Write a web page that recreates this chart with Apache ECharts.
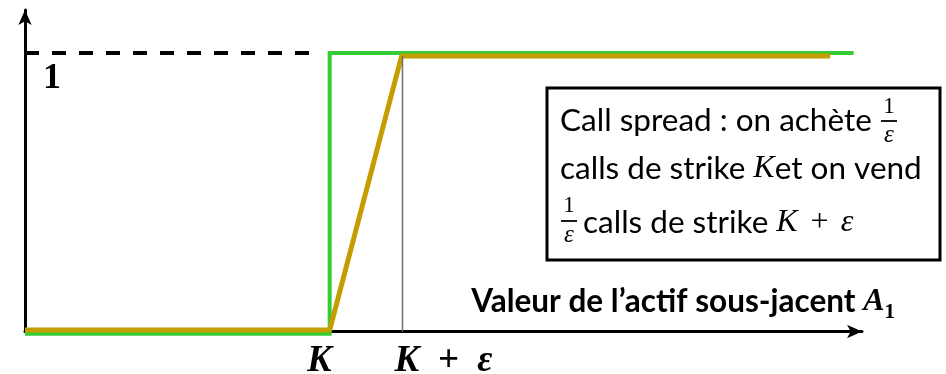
<!DOCTYPE html>
<html>
<head>
<meta charset="utf-8">
<script src="https://cdn.jsdelivr.net/npm/echarts@6/dist/echarts.min.js"></script>
<style>
    html, body { margin: 0; padding: 0; background: #fff; }
    #chart { width: 946px; height: 374px; }
</style>
</head>
<body>
<div id="chart"></div>
<script>
// strikes on the underlying axis (arbitrary units 0..100)
const strikeK = 36.4;
const strikeKEps = 45.1;

// digital payoff (green)
const digitalX = [0, 36.4, 36.4, 99.0];
const digitalY = [-0.008, -0.008, 1, 1];

// call spread payoff (gold)
const spreadX = [0, 36.4, 45.0, 96.2];
const spreadY = [0.005, 0.005, 0.989, 0.989];

// dashed level 1 and thin guide at K + eps
const levelX = [0, 34.4];
const levelY = [1, 1];
const guideX = [45.1, 45.1];
const guideY = [0, 0.989];

const tickLabels = ['K', 'K\u2002+\u2002ε'];
const levelLabel = '1';

function zip(xs, ys) {
    let out = [];
    for (let i = 0; i < xs.length; i++) {
        out.push([xs[i], ys[i]]);
    }
    return out;
}

const chart = echarts.init(document.getElementById('chart'));

const axisLine = {
    show: true,
    symbol: ['none', 'arrow'],
    symbolSize: [10, 15],
    lineStyle: { color: '#000', width: 3 }
};

let option = {
    animation: false,
    grid: { left: 25, right: 84, top: 10, bottom: 42.5 },
    xAxis: {
        type: 'value', min: 0, max: 100,
        axisLine: axisLine,
        axisTick: { show: false }, axisLabel: { show: false }, splitLine: { show: false }
    },
    yAxis: {
        type: 'value', min: 0, max: 1.154,
        axisLine: axisLine,
        axisTick: { show: false }, axisLabel: { show: false }, splitLine: { show: false }
    },
    series: [{
        type: 'line', data: zip(levelX, levelY), symbol: 'none', clip: false,
        lineStyle: { color: '#000', width: 4, type: [14, 13] }
    }, {
        type: 'line', data: zip(digitalX, digitalY), symbol: 'none', clip: false,
        lineStyle: { color: '#35CC35', width: 4, join: 'miter' }
    }, {
        type: 'line', data: zip(spreadX, spreadY), symbol: 'none', clip: false,
        lineStyle: { color: '#C49E00', width: 5 }
    }, {
        type: 'line', data: zip(guideX, guideY), symbol: 'none', clip: false,
        lineStyle: { color: '#707070', width: 1.5 }
    }]
};

chart.setOption(option);

// labels placed from the axis scale
const kPx = chart.convertToPixel({ gridIndex: 0 }, [strikeK, 0]);
const kePx = chart.convertToPixel({ gridIndex: 0 }, [strikeKEps, 0]);
const onePx = chart.convertToPixel({ gridIndex: 0 }, [0, 1]);

const mathFont = '"Liberation Serif", "DejaVu Serif", serif';
const textFont = 'Lato, "Open Sans", sans-serif';

chart.setOption({
    graphic: [{
        type: 'text', left: onePx[0] + 18, top: onePx[1] + 8,
        style: { text: levelLabel, font: 'bold 36px ' + mathFont, fill: '#000' }
    }, {
        type: 'text', x: kPx[0] + 2, y: kPx[1] + 48,
        style: { text: tickLabels[0], font: 'italic bold 37px ' + mathFont, fill: '#000', align: 'right', verticalAlign: 'bottom' }
    }, {
        type: 'text', x: kePx[0] - 8, y: kePx[1] + 48,
        style: { text: tickLabels[1], font: 'italic bold 37px ' + mathFont, fill: '#000', align: 'left', verticalAlign: 'bottom' }
    }, {
        // axis title
        type: 'text', x: 895, y: 323,
        style: {
            text: '{b|Valeur de l\u2019actif sous-jacent }{a|A}{s|1}',
            align: 'right', verticalAlign: 'bottom',
            rich: {
                b: { font: 'bold 31.5px ' + textFont, fill: '#000', lineHeight: 42 },
                a: { font: 'bold italic 32px ' + mathFont, fill: '#000', lineHeight: 42 },
                s: { font: 'bold 21px ' + mathFont, fill: '#000', lineHeight: 14, verticalAlign: 'bottom' }
            }
        }
    }, {
        // text box
        type: 'rect', shape: { x: 547, y: 88, width: 393, height: 172 },
        style: { fill: '#fff', stroke: '#000', lineWidth: 3 }
    }, {
        type: 'text', x: 560, y: 137,
        style: { text: 'Call spread : on achète', font: '31.5px ' + textFont, fill: '#000', verticalAlign: 'bottom' }
    }, {
        type: 'text', x: 889, y: 118,
        style: { text: '1', font: '23px ' + mathFont, fill: '#000', align: 'center', verticalAlign: 'bottom' }
    }, {
        type: 'line', shape: { x1: 881, y1: 121, x2: 897, y2: 121 },
        style: { stroke: '#000', lineWidth: 1.8 }
    }, {
        type: 'text', x: 889, y: 123,
        style: { text: 'ε', font: 'italic 25px ' + mathFont, fill: '#000', align: 'center', verticalAlign: 'top' }
    }, {
        type: 'text', x: 560, y: 185,
        style: {
            text: '{t|calls de strike }{m|K}{t|et on vend}', verticalAlign: 'bottom',
            rich: {
                t: { font: '31.5px ' + textFont, fill: '#000' },
                m: { font: 'italic 32px ' + mathFont, fill: '#000' }
            }
        }
    }, {
        type: 'text', x: 569, y: 217,
        style: { text: '1', font: '23px ' + mathFont, fill: '#000', align: 'center', verticalAlign: 'bottom' }
    }, {
        type: 'line', shape: { x1: 561, y1: 221, x2: 577, y2: 221 },
        style: { stroke: '#000', lineWidth: 1.8 }
    }, {
        type: 'text', x: 569, y: 223,
        style: { text: 'ε', font: 'italic 25px ' + mathFont, fill: '#000', align: 'center', verticalAlign: 'top' }
    }, {
        type: 'text', x: 583, y: 239,
        style: {
            text: '{t|calls de strike }{m|K\u2004+\u2004ε}', verticalAlign: 'bottom',
            rich: {
                t: { font: '31.5px ' + textFont, fill: '#000' },
                m: { font: 'italic 32px ' + mathFont, fill: '#000' }
            }
        }
    }]
});
</script>
</body>
</html>
